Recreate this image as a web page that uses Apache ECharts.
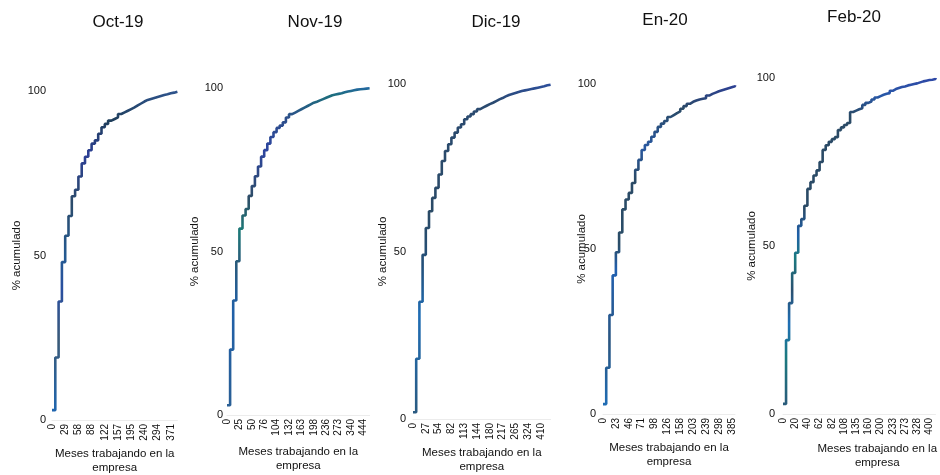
<!DOCTYPE html>
<html><head><meta charset="utf-8">
<script src="https://cdn.jsdelivr.net/npm/echarts@6/dist/echarts.min.js"></script>
<style>html,body{margin:0;padding:0;background:#fff}#c{width:940px;height:475px}</style>
</head><body><div id="c"></div><script>
const panelTitles = ['Oct-19', 'Nov-19', 'Dic-19', 'En-20', 'Feb-20'];
const yAxisName = '% acumulado';
const xAxisName = 'Meses trabajando en la\nempresa';
const yTicks = [0, 50, 100];

// Oct-19
const octTicks = [0, 29, 58, 88, 122, 157, 195, 240, 294, 371];
const octCats = [0,7,14,22, 29,36,43,51, 58,65,73,80, 88,96,105,113, 122,131,140,148, 157,166,176,185, 195,206,217,229, 240,253,267,280, 294,313,332,352, 371,390,410];
const octVals = [3,19,36,48, 56,62,68,70, 74,78,80,82, 84,85,87,89, 90,91,91.5,92, 93,93.5,94,94.5, 95,95.6,96.2,96.8, 97.3,97.6,97.9,98.2, 98.5,98.8,99,99.3, 99.5,99.8,100];

// Nov-19
const novTicks = [0, 25, 50, 76, 104, 132, 163, 198, 236, 273, 340, 444];
const novCats = [0,6,12,19, 25,31,37,44, 50,56,63,70, 76,83,90,97, 104,111,118,125, 132,140,148,155, 163,172,181,190, 198,208,217,227, 236,245,254,264, 273,290,307,323, 340,366,392,418, 444,470,496];
const novVals = [3,20,35,47, 57,61,63,67, 70,73,76,79, 81,83,85,86.5, 87.8,88.5,89.5,91, 92,92.5,93,93.5, 94,94.5,95,95.5, 95.8,96.2,96.6,97, 97.4,97.8,98,98.2, 98.4,98.7,98.9,99.1, 99.3,99.5,99.6,99.7, 99.8,99.9,100];

// Dic-19
const dicTicks = [0, 27, 54, 82, 113, 144, 180, 217, 265, 324, 410];
const dicCats = [0,7,13,20, 27,34,40,47, 54,61,68,75, 82,90,98,105, 113,121,129,136, 144,153,162,171, 180,189,199,208, 217,229,241,253, 265,280,295,309, 324,346,367,389, 410,432,453,475];
const dicVals = [2,18,35,49, 57,62,66,69, 73,77,80,82, 84,85.5,87,88, 89.5,90.3,91,91.8, 92.5,93,93.5,94, 94.4,94.9,95.4,95.8, 96.3,96.7,97,97.3, 97.6,97.9,98.1,98.3, 98.5,98.7,98.9,99.1, 99.3,99.6,99.8,100];

// En-20
const enTicks = [0, 23, 46, 71, 98, 126, 158, 203, 239, 298, 385];
const enCats = [0,6,12,17, 23,29,35,40, 46,52,58,65, 71,78,84,91, 98,105,112,119, 126,134,142,150, 158,169,180,192, 203,212,221,230, 239,254,268,283, 298,320,342,363, 385,407];
const enVals = [3,14,30,42, 49,55,62,65, 67,70,74,77, 80,81.5,82.5,84, 85.5,87,88,88.8, 90,90.6,91.2,91.7, 92.5,93.3,94,94.6, 95,95.3,95.5,95.7, 96.5,97,97.4,97.8, 98.1,98.4,98.7,99, 99.3,99.6];

// Feb-20
const febTicks = [0, 20, 40, 62, 82, 108, 135, 160, 200, 233, 273, 328, 400];
const febCats = [0,5,10,15, 20,25,30,35, 40,46,51,57, 62,67,72,77, 82,89,95,102, 108,115,122,128, 135,141,148,154, 160,170,180,190, 200,208,217,225, 233,243,253,263, 273,287,301,314, 328,346,364,382, 400,418,436];
const febVals = [3,22,33,42, 48,56,58,62, 67,69,71,72.5, 75,78.6,80,81, 81.8,82.4,84.5,85.3, 86,86.6,89.9,90.3, 90.7,91,92,92.6, 93,93.6,94.2,94.6, 95,95.3,95.5,96.2, 96.7,97,97.3,97.5, 97.8,98,98.2,98.4, 98.7,99,99.2,99.4, 99.5,99.7,100];

const panels = [
  {cats: octCats, ticks: octTicks, vals: octVals},
  {cats: novCats, ticks: novTicks, vals: novVals},
  {cats: dicCats, ticks: dicTicks, vals: dicVals},
  {cats: enCats, ticks: enTicks, vals: enVals},
  {cats: febCats, ticks: febTicks, vals: febVals}
];

// layout (pixels) and styling per panel
const layouts = [
  {left: 52, width: 125.4, top: 91, height: 329, tx: 118, ty: 22, yGap: 29, yMargin: 6, xGap: 27, xPad: 0,
   stops: [[0,'#2f5590'],[0.1,'#1f3e5a'],[0.2,'#2c3f96'],[0.35,'#2b4b6a'],[0.52,'#245a92'],[0.62,'#2a4fa0'],[0.78,'#3a5a78'],[1,'#1f66b0']]},
  {left: 227, width: 142.6, top: 88, height: 327, tx: 315, ty: 22, yGap: 26, yMargin: 4, xGap: 30, xPad: 0,
   stops: [[0,'#2466a8'],[0.03,'#1d6e7d'],[0.1,'#2d4f8a'],[0.2,'#2d45a0'],[0.35,'#2e4d66'],[0.45,'#1c7a78'],[0.55,'#2a5a7a'],[0.7,'#2060a8'],[1,'#2a5f95']]},
  {left: 413, width: 137.6, top: 84, height: 335, tx: 496, ty: 22, yGap: 24, yMargin: 7, xGap: 27, xPad: 0,
   stops: [[0,'#2d4fa0'],[0.06,'#2a4a70'],[0.4,'#2a4a66'],[0.55,'#23507a'],[0.7,'#1f6db5'],[1,'#2a5a80']]},
  {left: 603, width: 132, top: 84, height: 330, tx: 665, ty: 20, yGap: 15, yMargin: 7, xGap: 27, xPad: 0,
   stops: [[0,'#2d3f9a'],[0.08,'#2a4a66'],[0.2,'#2858a0'],[0.3,'#2a4a66'],[0.5,'#2a4d68'],[0.58,'#2160b0'],[0.8,'#2a5580'],[1,'#1f6db5']]},
  {left: 783, width: 152.5, top: 78, height: 336, tx: 854, ty: 17, yGap: 25, yMargin: 8, xGap: 28, xPad: 36,
   stops: [[0,'#2f45a5'],[0.06,'#2858a8'],[0.12,'#2a4a66'],[0.4,'#2a4a66'],[0.48,'#1f5fa8'],[0.55,'#1b7a80'],[0.65,'#2a5070'],[0.75,'#1f6fb5'],[0.85,'#1b7a80'],[1,'#2a5a7a']]}
];

const FONT = '"Liberation Sans", Arial, sans-serif';
const grids = [], xAxes = [], yAxes = [], series = [], graphics = [];

panels.forEach((p, i) => {
  const L = layouts[i];
  grids.push({left: L.left, top: L.top, width: L.width, height: L.height, containLabel: false, outerBoundsMode: 'none'});
  const tickSet = p.ticks.map(String);
  xAxes.push({
    type: 'category', gridIndex: i, data: p.cats.map(String), boundaryGap: false,
    name: xAxisName, nameLocation: 'middle', nameGap: L.xGap, nameMoveOverlap: false,
    nameTextStyle: {fontFamily: FONT, fontSize: 11.5, color: '#111', lineHeight: 14, padding: [0, 0, 0, L.xPad]},
    axisLine: {show: true, lineStyle: {color: '#ececec', width: 1}},
    axisTick: {show: false},
    splitLine: {show: false},
    axisLabel: {
      rotate: 90, margin: 4, fontFamily: FONT, fontSize: 10, color: '#111',
      interval: (idx, val) => tickSet.indexOf(val) >= 0,
      hideOverlap: false
    }
  });
  yAxes.push({
    type: 'value', gridIndex: i, min: yTicks[0], max: yTicks[yTicks.length - 1], interval: yTicks[1] - yTicks[0],
    name: yAxisName, nameLocation: 'middle', nameGap: L.yGap, nameMoveOverlap: false,
    nameTextStyle: {fontFamily: FONT, fontSize: 11.5, color: '#111'},
    axisLine: {show: false}, axisTick: {show: false}, splitLine: {show: false},
    axisLabel: {margin: L.yMargin, fontFamily: FONT, fontSize: 11, color: '#111'}
  });
  series.push({
    type: 'line', xAxisIndex: i, yAxisIndex: i, data: p.vals, step: 'end',
    symbol: 'none', animation: false,
    lineStyle: {width: 2.6, color: new echarts.graphic.LinearGradient(0, 0, 0, 1,
      L.stops.map(s => ({offset: s[0], color: s[1]})))}
  });
  graphics.push({
    type: 'text', x: L.tx, y: L.ty,
    style: {text: panelTitles[i], fill: '#111', font: '17px ' + FONT, align: 'center', verticalAlign: 'middle'}
  });
});

const chart = echarts.init(document.getElementById('c'), null, {renderer: 'canvas'});
chart.setOption({
  backgroundColor: '#fff',
  animation: false,
  grid: grids, xAxis: xAxes, yAxis: yAxes, series: series,
  graphic: graphics
});
</script></body></html>
